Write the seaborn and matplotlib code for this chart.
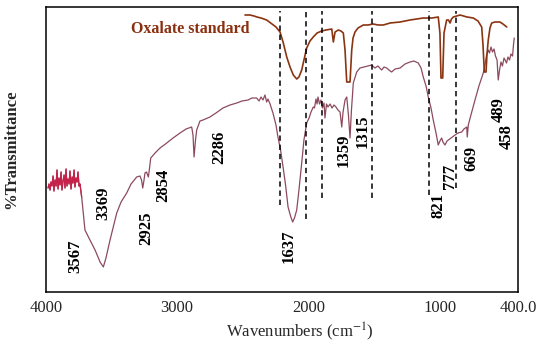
import matplotlib
matplotlib.use("Agg")
import matplotlib.pyplot as plt
import seaborn as sns
import numpy as np

# ---- data (transmittance in arbitrary units) ----
sample_wn = [3982, 3975, 3967, 3960, 3952, 3944, 3937, 3929, 3921, 3914, 3906, 3899, 3891, 3883,
             3876, 3868, 3860, 3853, 3845, 3838, 3830, 3822, 3815, 3807, 3799, 3792, 3784, 3777,
             3769, 3761, 3754, 3746, 3739,
             3726, 3701, 3663, 3624, 3586, 3561, 3541, 3510, 3459, 3426, 3383, 3350, 3307, 3282,
             3270, 3261, 3251, 3244, 3232, 3218, 3209, 3200, 3167, 3129, 3078, 3030, 2977, 2931,
             2888, 2878, 2870, 2859, 2850, 2825, 2802, 2749, 2703, 2650, 2596, 2545, 2505, 2459,
             2429, 2393, 2375, 2360, 2345, 2330, 2317, 2307, 2291, 2269, 2246, 2231, 2211, 2192,
             2173, 2154, 2135, 2119, 2105, 2088, 2071, 2050, 2033, 2012, 1994, 1979, 1962, 1953,
             1941, 1933, 1926, 1914, 1903, 1892, 1880, 1873, 1861, 1850, 1834, 1819, 1804, 1789,
             1774, 1758, 1745, 1735, 1720, 1707, 1694, 1682, 1671, 1657, 1631, 1606, 1576, 1545,
             1517, 1492, 1469, 1441, 1423, 1403, 1385, 1365, 1339, 1301, 1263, 1225, 1195, 1162,
             1141, 1124, 1103, 1086, 1065, 1048, 1027, 1010, 997, 984, 974, 959, 943, 933, 913,
             882, 860, 831, 814, 793, 789, 781, 761, 730, 700, 667, 654, 642, 629, 620, 608, 597,
             585, 574, 562, 553, 543, 532, 521, 509, 501, 490, 479, 467, 456, 444, 437, 431]
sample_T = [104, 108, 102, 110, 106, 116, 101, 112, 106, 122, 103, 114, 107, 120, 102, 111, 117,
            104, 123, 106, 113, 108, 121, 103, 115, 109, 122, 105, 114, 110, 120, 106, 108,
            95, 62, 52, 42, 30, 25, 34, 52, 79, 90, 99, 108, 115, 116,
            112, 104, 112, 119, 120, 115, 124, 134, 139, 144, 149, 154, 159, 163,
            165, 157, 135, 152, 162, 171, 172, 175, 179, 184, 187, 189, 191, 192,
            194, 194, 191, 195, 192, 197, 190, 193, 188, 179, 167, 155, 142, 125,
            107, 85, 76, 70, 74, 82, 102, 129, 152, 169, 174, 180, 185, 184,
            193, 188, 195, 188, 192, 184, 189, 174, 188, 185, 188, 184, 187, 185,
            182, 180, 165, 180, 192, 195, 177, 154, 182, 209, 220, 224, 225, 226,
            227, 224, 226, 222, 225, 224, 222, 220, 223, 224, 228, 230, 231, 229,
            224, 215, 206, 195, 184, 172, 159, 147, 151, 154, 150, 147, 151, 152, 154,
            157, 159, 160, 163, 165, 155, 167, 177, 192, 206, 219, 227, 237, 242, 239, 245, 240,
            243, 236, 232, 212, 222, 230, 226, 234, 232, 229, 235, 232, 238, 236, 247, 254]
n_noisy = 34  # first points drawn as noisy red trace

oxalate_wn = [2482, 2444, 2413, 2391, 2360, 2317, 2276, 2246, 2215, 2192, 2164, 2139, 2114, 2088,
              2071, 2050, 2033, 2012, 1987, 1962, 1933, 1898, 1865, 1821, 1809, 1796, 1771, 1751,
              1733, 1720, 1707, 1682, 1669, 1659, 1644, 1621, 1581, 1545, 1505, 1469, 1428, 1377,
              1301, 1225, 1124, 1058, 1010, 997, 989, 976, 966, 946, 932, 920, 909, 895, 844, 791,
              743, 707, 679, 669, 659, 646, 639, 629, 616, 603, 578, 540, 517, 488]
oxalate_T = [277, 277, 276, 275, 274, 272, 268, 265, 260, 250, 235, 225, 217, 213,
             215, 222, 232, 244, 251, 255, 259, 261, 262, 263, 250, 260, 262, 261,
             259, 242, 210, 210, 242, 254, 260, 264, 267, 267, 268, 267, 267, 269,
             270, 272, 274, 274, 275, 259, 214, 214, 259, 272, 272, 269, 273, 275, 277, 275,
             274, 271, 265, 247, 220, 220, 237, 252, 264, 269, 270, 270, 268, 265]

dash_wn = [2215, 2017, 1893, 1515, 1080, 877]
dash_bottom = [87, 73, 94, 94, 97, 104]
dash_top = 281

peak_labels = ["3567", "3369", "2925", "2854", "2286", "1637", "1359", "1315",
               "821", "777", "669", "489", "458"]
peak_x = [3777, 3561, 3236, 3107, 2678, 2152, 1728, 1585, 1010, 920, 755, 547, 488]
peak_y = [36, 89, 64, 107, 145, 46, 142, 161, 87, 116, 134, 182, 155]

tick_vals = [4000, 3000, 2000, 1000, 400]
tick_labels = ["4000", "3000", "2000", "1000", "400.0"]

# ---- plot ----
sns.set_style("white")
plt.rcParams['font.family'] = ['Liberation Serif', 'DejaVu Serif']
plt.rcParams['mathtext.fontset'] = 'stix'

fig = plt.figure(figsize=(5.5, 3.45), dpi=100)
ax = fig.add_axes([0.0831, 0.1536, 0.8593, 0.8261])

sns.lineplot(x=sample_wn, y=sample_T, estimator=None, sort=False, ax=ax,
             color="#8C4A5E", linewidth=0.9)
sns.lineplot(x=sample_wn[:n_noisy], y=sample_T[:n_noisy], estimator=None, sort=False, ax=ax,
             color="#C8204A", linewidth=0.9)
sns.lineplot(x=oxalate_wn, y=oxalate_T, estimator=None, sort=False, ax=ax,
             color="#8A3412", linewidth=1.2)

for xv, yb in zip(dash_wn, dash_bottom):
    ax.plot([xv, xv], [yb, dash_top], color="black", linestyle=(0, (3.5, 2.5)), linewidth=1.1)

for lab, xv, yv in zip(peak_labels, peak_x, peak_y):
    ax.text(xv, yv, lab, rotation=90, ha="center", va="center",
            fontsize=12, fontweight="bold", color="black")

ax.text(2901, 263, "Oxalate standard", ha="center", va="center", fontsize=11.5,
        fontweight="bold", color="#8A2F10")

ax.set_xlim(4000, 400)
ax.set_ylim(0, 285)
ax.set_xticks(tick_vals)
ax.set_xticklabels(tick_labels, fontsize=12)
ax.set_yticks([])
ax.tick_params(axis="x", direction="in", length=12, width=1, pad=6, color="black")
for s in ax.spines.values():
    s.set_color("black")
    s.set_linewidth(1.1)

ax.set_xlabel("Wavenumbers (cm$^{-1}$)", fontsize=12)
ax.xaxis.set_label_coords(0.538, -0.1)
ax.set_ylabel("%Transmittance", fontsize=12, fontweight="bold")
ax.yaxis.set_label_coords(-0.056, 0.5)

fig.savefig("out.png", dpi=100)
